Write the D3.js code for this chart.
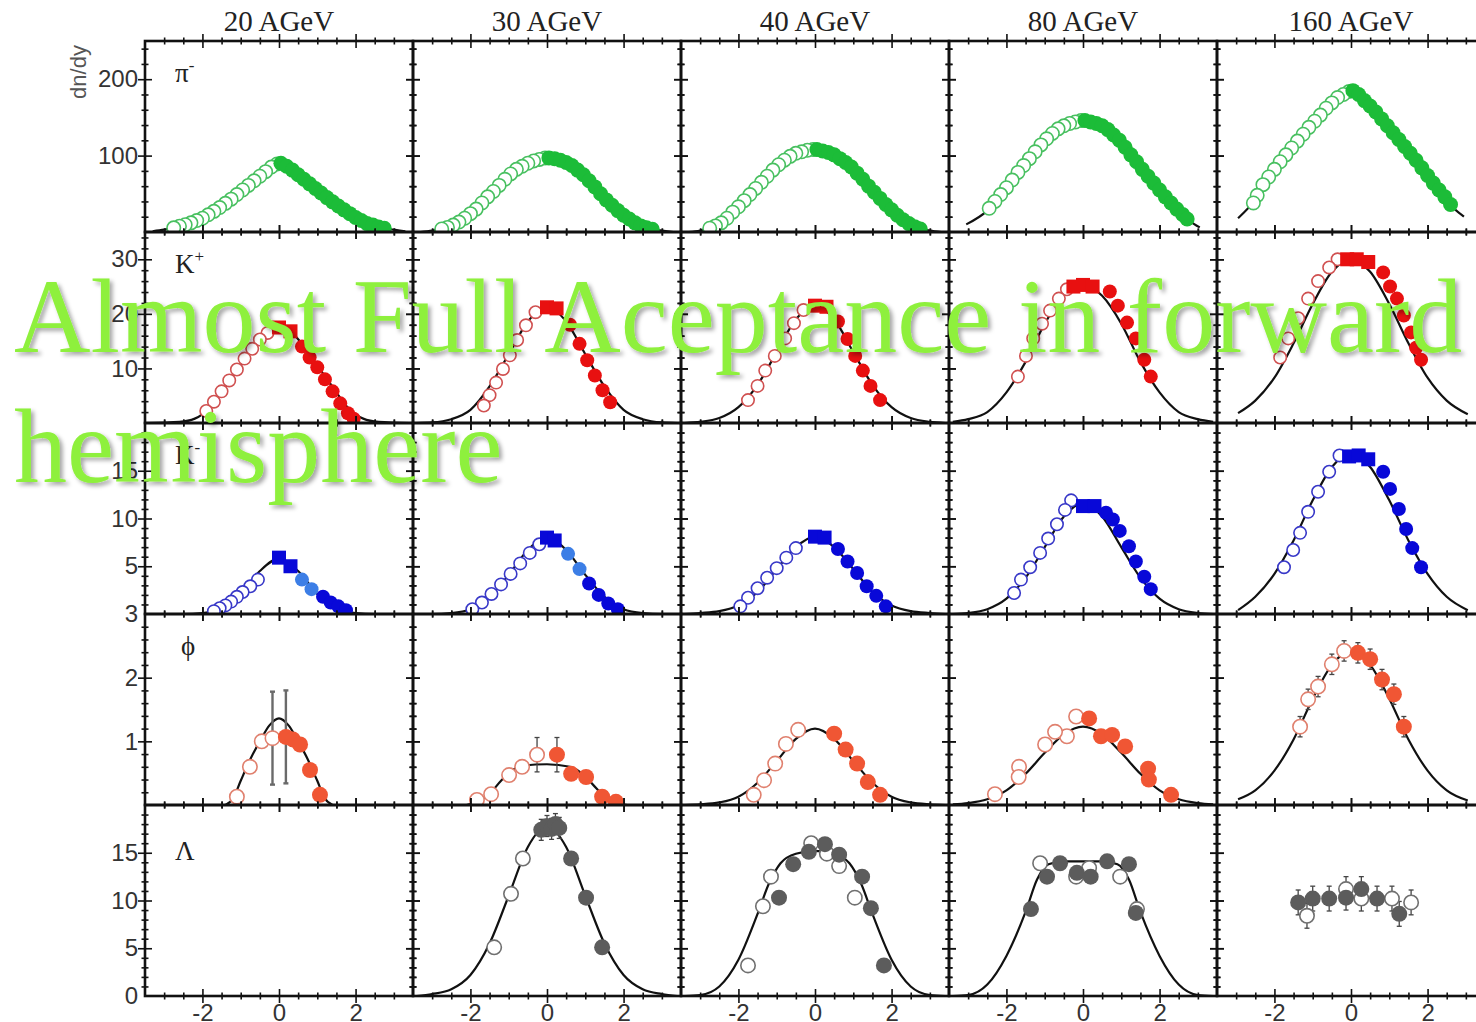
<!DOCTYPE html>
<html>
<head>
<meta charset="utf-8">
<script src="https://cdn.jsdelivr.net/npm/d3@7"></script>
<style>
  body { margin: 0; background: #fff; }
  svg { display: block; }
</style>
</head>
<body>
<svg id="chart" width="1476" height="1022"></svg>
<script>
// ---- beam energies (columns) and particle species (rows) ----
const energies = ["20 AGeV", "30 AGeV", "40 AGeV", "80 AGeV", "160 AGeV"];
const species = [["π", "-"], ["K", "+"], ["K", "-"], ["ϕ", ""], ["Λ", ""]];
const yMaxima = [250, 35, 20, 3, 20];
const yTickLabels = [[100, 200], [10, 20, 30], [5, 10, 15], [1, 2, 3], [0, 5, 10, 15]];
const yMinorSteps = [20, 2, 1, 0.2, 1];
const xTickLabels = [-2, 0, 2];
const yAxisTitle = "dn/dy";
const headline = ["Almost Full Aceptance in forward", "hemisphere"];

// ---- π⁻ rapidity spectra: [y, dn/dy] ----
const piOpen = [
  [[-0.05,89],[-0.2,85],[-0.35,79],[-0.5,73],[-0.65,67],[-0.8,61],[-0.95,55],[-1.1,49],[-1.25,43],[-1.4,37.5],[-1.55,32],[-1.7,27],[-1.85,22.5],[-2.0,18],[-2.15,15],[-2.3,12],[-2.45,9.5],[-2.6,7.5],[-2.75,5.5]],
  [[-0.05,97],[-0.2,95],[-0.35,93],[-0.5,90],[-0.65,86],[-0.8,82],[-0.95,76],[-1.1,69],[-1.25,61],[-1.4,53],[-1.55,46],[-1.7,38],[-1.85,30],[-2.0,24],[-2.15,18],[-2.3,13],[-2.45,9],[-2.6,6],[-2.75,4]],
  [[-0.05,108],[-0.2,107],[-0.35,105],[-0.5,103],[-0.65,99],[-0.8,94],[-0.95,88],[-1.1,81],[-1.25,73],[-1.4,65],[-1.55,57],[-1.7,49],[-1.85,41],[-2.0,33],[-2.15,26],[-2.3,18],[-2.45,12],[-2.6,8],[-2.75,5]],
  [[-0.05,146],[-0.2,144],[-0.35,142],[-0.5,139],[-0.65,135],[-0.8,129],[-0.95,122],[-1.1,114],[-1.25,105],[-1.4,96],[-1.55,87],[-1.7,78],[-1.85,68],[-2.0,58],[-2.15,49],[-2.3,40],[-2.45,31]],
  [[-0.05,184],[-0.2,180],[-0.35,176],[-0.5,169],[-0.65,162],[-0.8,153],[-0.95,145],[-1.1,137],[-1.25,128],[-1.4,119],[-1.55,110],[-1.7,101],[-1.85,92],[-2.0,82],[-2.15,72],[-2.3,62],[-2.45,48],[-2.55,38]]
];
const piFilled = [
  [[0.05,90],[0.2,86],[0.35,81],[0.5,75],[0.65,69],[0.8,63],[0.95,57],[1.1,51],[1.25,45],[1.4,39.5],[1.55,34],[1.7,29],[1.85,24],[2.0,19],[2.15,15],[2.3,11],[2.45,9],[2.6,6.5],[2.75,5]],
  [[0.05,97],[0.2,96],[0.35,94],[0.5,91],[0.65,87],[0.8,81],[0.95,75],[1.1,67],[1.25,59],[1.4,50],[1.55,42],[1.7,35],[1.85,28],[2.0,22],[2.15,17],[2.3,12],[2.45,8],[2.6,5.5],[2.75,3.5]],
  [[0.05,108],[0.2,106],[0.35,104],[0.5,101],[0.65,96],[0.8,91],[0.95,85],[1.1,77],[1.25,69],[1.4,60],[1.55,52],[1.7,44],[1.85,36],[2.0,29],[2.15,22],[2.3,16],[2.45,11],[2.6,7],[2.75,4]],
  [[0.05,146],[0.2,144],[0.35,142],[0.5,139],[0.65,134],[0.8,127],[0.95,120],[1.1,111],[1.25,101],[1.4,92],[1.55,82],[1.7,73],[1.85,64],[2.0,55],[2.15,46],[2.3,38],[2.45,30],[2.6,23],[2.72,17]],
  [[0.05,185],[0.2,180],[0.35,172],[0.5,165],[0.65,157],[0.8,148],[0.95,139],[1.1,130],[1.25,121],[1.4,112],[1.55,103],[1.7,94],[1.85,84],[2.0,74],[2.15,64],[2.3,55],[2.45,46],[2.6,36]]
];
const piCurve = [
  [[-3.3,1],[-3,3],[-2.7,6],[-2.3,12],[-1.9,21],[-1.5,34],[-1,52],[-0.5,72],[0,90],[0.5,75],[1,55],[1.5,36],[1.9,22],[2.3,11],[2.7,5],[3,3],[3.3,1]],
  [[-3.3,0],[-3,2],[-2.7,5],[-2.3,13],[-1.9,28],[-1.5,48],[-1,74],[-0.5,90],[0,97],[0.5,91],[1,72],[1.5,45],[1.9,26],[2.3,12],[2.7,4],[3,2],[3.3,0]],
  [[-3.3,0],[-3,2],[-2.7,6],[-2.3,18],[-1.9,38],[-1.5,60],[-1,86],[-0.5,103],[0,107],[0.5,101],[1,82],[1.5,55],[1.9,34],[2.3,16],[2.7,5],[3,2],[3.3,0]],
  [[-3.05,10],[-2.5,28],[-2,58],[-1.5,90],[-1,119],[-0.5,139],[0,146],[0.5,139],[1,117],[1.5,86],[2,55],[2.5,28],[2.8,14],[3.05,6]],
  [[-2.95,18],[-2.5,42],[-2,82],[-1.5,113],[-1,142],[-0.5,169],[0,186],[0.5,165],[1,136],[1.5,106],[2,74],[2.5,40],[2.95,20]]
];

// ---- K⁺ ----
const kpOpen = [
  [[-0.3,16.5],[-0.5,15.3],[-0.7,13.6],[-0.9,11.8],[-1.1,9.8],[-1.3,7.8],[-1.5,5.8],[-1.7,3.9],[-1.9,2.2]],
  [[-0.3,20.3],[-0.55,17.9],[-0.78,15.2],[-0.97,12.4],[-1.15,9.9],[-1.33,7.4],[-1.5,5.1],[-1.65,3.2]],
  [[-0.3,20.7],[-0.55,18.3],[-0.78,15.5],[-1.05,12.3],[-1.3,9.6],[-1.5,6.8],[-1.75,4.2]],
  [[-0.42,24.5],[-0.63,22.8],[-0.86,20.6],[-1.07,18.2],[-1.3,15.5],[-1.49,12.3],[-1.7,8.5]],
  [[-0.35,30],[-0.57,28.5],[-0.86,26],[-1.12,22.8],[-1.38,19.2],[-1.64,15.5],[-1.85,12]]
];
const kpSquare = [
  [[0,17.5],[0.3,16.8]],
  [[0,21.2],[0.25,21]],
  [[0,21.5],[0.3,21.3]],
  [[-0.25,25],[0,25.3],[0.25,25]],
  [[-0.1,30],[0.15,30],[0.45,29.5]]
];
const kpFilled = [
  [[0.6,14],[0.8,12],[1.0,10.2],[1.2,8],[1.4,5.8],[1.6,3.6],[1.8,1.8],[1.95,0.8]],
  [[0.6,18],[0.85,14.5],[1.05,11.5],[1.25,8.7],[1.45,6],[1.65,3.8]],
  [[0.6,18.6],[0.85,15.4],[1.05,12.3],[1.25,9.6],[1.45,6.8],[1.7,4.2]],
  [[0.7,24.1],[0.91,21.5],[1.15,18.4],[1.38,15.5],[1.6,11.6],[1.77,8.5]],
  [[0.84,27.6],[1.02,25],[1.2,22.8],[1.38,19.7],[1.57,16.6],[1.7,13.8],[1.83,11.6]]
];
const kpCurve = [
  [[-3.4,0],[-2.6,0.2],[-2.2,0.8],[-1.8,2.8],[-1.4,6.6],[-1,10.5],[-0.6,14.5],[-0.3,16.8],[0,17.6],[0.3,16.8],[0.6,14.5],[1,10.5],[1.4,6.6],[1.8,2.8],[2.2,0.8],[2.6,0.2],[3.4,0]],
  [[-3.4,0],[-3,0.1],[-2.5,0.7],[-2,2.4],[-1.5,6.7],[-1,12.6],[-0.5,18.6],[0,21.3],[0.5,18.6],[1,12.6],[1.5,6.7],[2,2.4],[2.5,0.7],[3,0.1],[3.4,0]],
  [[-3.4,0],[-3,0.2],[-2.5,0.9],[-2,2.9],[-1.5,7],[-1,13],[-0.5,19],[0,21.5],[0.5,19],[1,13],[1.5,7],[2,2.9],[2.5,0.9],[3,0.2],[3.4,0]],
  [[-3.4,0.2],[-3,0.7],[-2.5,2],[-2,5.6],[-1.5,11.2],[-1,18.2],[-0.5,23.3],[0,25.3],[0.5,23.3],[1,18.2],[1.5,11.2],[2,5.6],[2.5,2],[3,0.7],[3.4,0.2]],
  [[-2.95,1.8],[-2.5,4.1],[-2,8.3],[-1.5,14.6],[-1,21.8],[-0.5,27.7],[0,30],[0.5,27.7],[1,21.8],[1.5,14.6],[2,8.3],[2.5,4.1],[3.05,1.6]]
];

// ---- K⁻ ----
const kmOpen = [
  [[-0.55,3.6],[-0.75,2.9],[-0.95,2.3],[-1.1,1.8],[-1.25,1.3],[-1.4,0.9],[-1.55,0.6],[-1.7,0.3]],
  [[-0.2,7.3],[-0.45,6.4],[-0.7,5.3],[-0.95,4.2],[-1.2,3.1],[-1.45,2.1],[-1.7,1.2],[-1.95,0.5]],
  [[-0.5,6.9],[-0.75,5.9],[-1.0,4.8],[-1.25,3.8],[-1.5,2.7],[-1.75,1.7],[-1.95,0.8]],
  [[-0.31,11.9],[-0.47,10.9],[-0.68,9.4],[-0.91,7.9],[-1.12,6.4],[-1.38,4.9],[-1.62,3.6],[-1.8,2.2]],
  [[-0.3,16.6],[-0.57,14.9],[-0.86,12.8],[-1.12,10.7],[-1.33,8.5],[-1.51,6.7],[-1.75,4.9]]
];
const kmSquare = [
  [[0,5.9],[0.3,5.0]],
  [[0,8.0],[0.2,7.7]],
  [[0,8.1],[0.25,8.0]],
  [[0,11.3],[0.3,11.3]],
  [[-0.05,16.5],[0.2,16.6],[0.45,16.2]]
];
const kmLight = [
  [[0.6,3.6],[0.85,2.6]],
  [[0.55,6.3],[0.85,4.7]],
  [], [], []
];
const kmFilled = [
  [[1.15,1.8],[1.35,1.2],[1.55,0.8],[1.75,0.4]],
  [[1.1,3.2],[1.35,2.0],[1.6,1.1],[1.85,0.5]],
  [[0.6,6.8],[0.85,5.5],[1.1,4.3],[1.35,2.9],[1.6,1.9],[1.85,0.8]],
  [[0.6,10.6],[0.78,9.9],[0.96,8.7],[1.2,7.1],[1.38,5.5],[1.6,3.9],[1.77,2.6]],
  [[0.84,14.9],[1.02,13.1],[1.25,11],[1.44,8.9],[1.6,6.9],[1.83,4.9]]
];
const kmCurve = [
  [[-3.4,0],[-2.5,0],[-2,0.1],[-1.5,0.6],[-1,2.1],[-0.5,4.5],[0,5.8],[0.5,4.5],[1,2.1],[1.5,0.6],[2,0.1],[2.5,0],[3.4,0]],
  [[-3.4,0],[-3,0],[-2.5,0.1],[-2,0.5],[-1.5,1.8],[-1,4.1],[-0.5,6.7],[0,8],[0.5,6.7],[1,4.1],[1.5,1.8],[2,0.5],[2.5,0.1],[3,0],[3.4,0]],
  [[-3.4,0],[-3,0.1],[-2.5,0.3],[-2,0.9],[-1.5,2.3],[-1,4.7],[-0.5,7],[0,8.1],[0.5,7],[1,4.7],[1.5,2.3],[2,0.9],[2.5,0.3],[3,0.1],[3.4,0]],
  [[-3.4,0],[-3,0.1],[-2.5,0.5],[-2,1.6],[-1.5,3.8],[-1,7],[-0.5,10.2],[0,11.6],[0.5,10.2],[1,7],[1.5,3.8],[2,1.6],[2.5,0.5],[3,0.1],[3.4,0]],
  [[-2.95,0.4],[-2.5,1.8],[-2,4.2],[-1.5,7.7],[-1,11.9],[-0.5,15.4],[0,16.8],[0.5,15.4],[1,11.9],[1.5,7.7],[2,4.2],[2.5,1.8],[3.05,0.4]]
];

// ---- ϕ: [y, dn/dy, error] ----
const phiOpen = [
  [[-1.1,0.13,0.05],[-0.76,0.6,0.08],[-0.45,1.0,0.08],[-0.17,1.05,0.73]],
  [[-0.26,0.79,0.27],[-0.65,0.6,0.05],[-0.99,0.47,0.05],[-1.46,0.17,0.04],[-1.83,0.08,0.03]],
  [[-0.44,1.18,0.06],[-0.76,0.96,0.06],[-1.04,0.65,0.05],[-1.33,0.39,0.05],[-1.6,0.16,0.04]],
  [[-0.18,1.39,0.07],[-0.42,1.08,0.07],[-0.73,1.15,0.07],[-0.99,0.95,0.06],[-1.67,0.6,0.06],[-1.68,0.44,0.05],[-2.3,0.17,0.04]],
  [[-0.18,2.42,0.16],[-0.5,2.21,0.16],[-0.86,1.86,0.16],[-1.12,1.66,0.16],[-1.33,1.23,0.16]]
];
const phiFilled = [
  [[0.18,1.07,0.73],[0.36,1.03,0.1],[0.55,0.95,0.1],[0.81,0.55,0.08],[1.07,0.16,0.05]],
  [[0.26,0.79,0.27],[0.63,0.49,0.05],[1.02,0.44,0.05],[1.44,0.13,0.04],[1.8,0.05,0.03]],
  [[0.5,1.12,0.06],[0.8,0.87,0.06],[1.1,0.65,0.05],[1.38,0.36,0.05],[1.7,0.16,0.04]],
  [[0.16,1.36,0.07],[0.47,1.08,0.07],[0.76,1.1,0.07],[1.1,0.92,0.06],[1.7,0.57,0.06],[1.72,0.4,0.05],[2.3,0.16,0.04]],
  [[0.18,2.39,0.16],[0.5,2.29,0.16],[0.81,1.97,0.16],[1.12,1.74,0.16],[1.38,1.23,0.16]]
];
const phiCurve = [
  [[-1.4,0],[-1.2,0.1],[-1,0.38],[-0.75,0.72],[-0.5,1.0],[-0.25,1.25],[0,1.36],[0.25,1.25],[0.5,1.0],[0.75,0.72],[1,0.38],[1.2,0.1],[1.4,0]],
  [[-2.1,0],[-1.8,0.06],[-1.5,0.18],[-1.2,0.38],[-0.9,0.55],[-0.6,0.62],[0,0.64],[0.6,0.6],[0.9,0.5],[1.2,0.32],[1.5,0.14],[1.8,0.04],[2.1,0]],
  [[-3.4,0],[-3,0.01],[-2.5,0.04],[-2,0.13],[-1.5,0.35],[-1,0.69],[-0.5,1.04],[0,1.2],[0.5,1.04],[1,0.69],[1.5,0.35],[2,0.13],[2.5,0.04],[3,0.01],[3.4,0]],
  [[-3.4,0.01],[-3,0.03],[-2.5,0.09],[-2,0.23],[-1.5,0.49],[-1,0.82],[-0.5,1.11],[0,1.23],[0.5,1.11],[1,0.82],[1.5,0.49],[2,0.23],[2.5,0.09],[3,0.03],[3.4,0.01]],
  [[-2.95,0.09],[-2.5,0.23],[-2,0.54],[-1.5,1.03],[-1,1.67],[-0.5,2.2],[0,2.42],[0.5,2.2],[1,1.67],[1.5,1.03],[2,0.54],[2.5,0.23],[3.05,0.07]]
];

// ---- Λ: [y, dn/dy, error] ----
const lamOpen = [
  [],
  [[-0.63,14.4,0],[-0.94,10.7,0],[-1.38,5.1,0]],
  [[-0.1,16.0,0],[0.31,14.9,0],[0.63,13.6,0],[-1.15,12.5,0],[-1.36,9.4,0],[-1.75,3.2,0],[1.04,10.3,0]],
  [[-1.12,13.9,0],[-0.18,12.5,0],[0.16,13.4,0],[0.97,12.5,0],[1.41,9.1,0]],
  [[-1.15,8.4,1.3],[-0.13,11.2,1.3],[0.27,10.2,1.3],[1.07,10.2,1.3],[1.57,9.8,1.3]]
];
const lamFilled = [
  [],
  [[-0.15,17.4,1.1],[0,17.8,1.1],[0.12,17.5,1.1],[0.22,18.0,1.1],[0.32,17.6,1.1],[0.63,14.4,0],[1.02,10.3,0],[1.44,5.1,0]],
  [[-0.94,10.3,0],[-0.57,13.8,0],[-0.16,15.1,0],[0.26,15.9,0],[0.63,14.8,0],[1.23,12.5,0],[1.46,9.2,0],[1.8,3.2,0]],
  [[-1.36,9.1,0],[-0.94,12.5,0],[-0.6,13.9,0],[-0.16,12.9,0],[0.2,12.5,0],[0.63,14.1,0],[1.2,13.8,0],[1.38,8.7,0]],
  [[-1.38,9.8,1.3],[-1.0,10.2,1.3],[-0.57,10.2,1.3],[-0.13,10.3,1.3],[0.27,11.2,1.3],[0.68,10.2,1.3],[1.26,8.6,1.3]]
];
const lamCurve = [
  [],
  [[-3.4,0],[-3,0.2],[-2.5,0.7],[-2,2.2],[-1.5,5.5],[-1,10.5],[-0.5,15.6],[0,17.8],[0.5,15.6],[1,10.5],[1.5,5.5],[2,2.2],[2.5,0.7],[3,0.2],[3.4,0]],
  [[-3.4,0],[-3,0.1],[-2.5,1.0],[-2,3.8],[-1.5,8.6],[-1.2,11.8],[-0.9,13.9],[-0.5,14.9],[0,15.2],[0.5,14.9],[0.9,13.9],[1.2,11.8],[1.5,8.6],[2,3.8],[2.5,1.0],[3,0.1],[3.4,0]],
  [[-3.4,0],[-3,0.1],[-2.5,1.2],[-2,4.2],[-1.5,8.8],[-1.2,12.2],[-0.9,13.8],[-0.5,14.1],[0,14.1],[0.5,14.1],[0.9,13.8],[1.2,12.2],[1.5,8.8],[2,4.2],[2.5,1.2],[3,0.1],[3.4,0]],
  []
];

// ---- layout ----
const frameLeft = 145, frameTop = 41, panelW = 268, panelH = 191;
const svg = d3.select("#chart");

const defs = svg.append("defs");
defs.append("clipPath").attr("id", "panel-clip")
  .append("rect").attr("x", 0).attr("y", 0).attr("width", panelW).attr("height", panelH);
const shadow = defs.append("filter").attr("id", "text-shadow")
  .attr("x", "-5%").attr("y", "-20%").attr("width", "110%").attr("height", "140%");
shadow.append("feDropShadow").attr("dx", 3).attr("dy", 3).attr("stdDeviation", 2)
  .attr("flood-color", "#000").attr("flood-opacity", 0.35);

const x = d3.scaleLinear().domain([-3.5, 3.5]).range([0, panelW]);

// per-row styling and series
const rows = [
  { series: [
      { kind: "curve", data: piCurve },
      { kind: "open", data: piOpen, stroke: "#48c060", r: 7.5 },
      { kind: "filled", data: piFilled, fill: "#1cbc38", r: 7.5 } ] },
  { series: [
      { kind: "curve", data: kpCurve },
      { kind: "open", data: kpOpen, stroke: "#d05050", r: 7 },
      { kind: "filled", data: kpFilled, fill: "#e81010", r: 7 },
      { kind: "square", data: kpSquare, fill: "#e81010", r: 7 } ] },
  { series: [
      { kind: "curve", data: kmCurve },
      { kind: "open", data: kmOpen, stroke: "#3838c8", r: 7 },
      { kind: "filled", data: kmFilled, fill: "#0808d8", r: 7 },
      { kind: "filled", data: kmLight, fill: "#3c7ee6", r: 7 },
      { kind: "square", data: kmSquare, fill: "#0808d8", r: 7 } ] },
  { series: [
      { kind: "curve", data: phiCurve },
      { kind: "error", data: phiOpen },
      { kind: "error", data: phiFilled },
      { kind: "open", data: phiOpen, stroke: "#e0806e", r: 8 },
      { kind: "filled", data: phiFilled, fill: "#f05634", r: 8 } ] },
  { series: [
      { kind: "curve", data: lamCurve },
      { kind: "error", data: lamOpen },
      { kind: "error", data: lamFilled },
      { kind: "open", data: lamOpen, stroke: "#707070", r: 8 },
      { kind: "filled", data: lamFilled, fill: "#5c5c5c", r: 8 } ] }
];

function crossTicks(g, axisFn, scale, values, len) {
  // ticks that straddle the frame line, drawn as two opposite d3 axes
  [len, -len].forEach(s => {
    const a = g.append("g").call(axisFn(scale).tickValues(values).tickSize(s).tickFormat(""));
    a.select(".domain").remove();
    a.selectAll("line").attr("stroke", "#111").attr("stroke-width", 1.6);
  });
}

rows.forEach((row, r) => {
  const y = d3.scaleLinear().domain([0, yMaxima[r]]).range([panelH, 0]);
  const line = d3.line().x(d => x(d[0])).y(d => y(d[1])).curve(d3.curveMonotoneX);
  const yMinor = d3.range(0, yMaxima[r] + 1e-9, yMinorSteps[r])
    .filter(v => !yTickLabels[r].some(t => Math.abs(t - v) < 1e-6) && v > 1e-6 && v < yMaxima[r] - 1e-6);
  const yMajor = yTickLabels[r].filter(v => v > 1e-6 && v < yMaxima[r] - 1e-6);
  const xMinor = d3.range(-3, 3.01, 0.5).filter(v => !xTickLabels.includes(v));

  energies.forEach((en, c) => {
    const g = svg.append("g")
      .attr("transform", `translate(${frameLeft + c * panelW},${frameTop + r * panelH})`);

    const plot = g.append("g").attr("clip-path", "url(#panel-clip)");
    row.series.forEach(s => {
      const pts = s.data[c];
      if (!pts || !pts.length) return;
      if (s.kind === "curve") {
        plot.append("path").datum(pts).attr("d", line)
          .attr("fill", "none").attr("stroke", "#111").attr("stroke-width", 2.2);
      } else if (s.kind === "error") {
        const big = r === 3 && c === 0;
        const eb = plot.append("g").attr("stroke", big ? "#6a6a6a" : "#444")
          .attr("stroke-width", big ? 2.4 : 1.3);
        pts.filter(d => d[2] > 0).forEach(d => {
          eb.append("line").attr("x1", x(d[0])).attr("x2", x(d[0]))
            .attr("y1", y(d[1] - d[2])).attr("y2", y(d[1] + d[2]));
          [d[1] - d[2], d[1] + d[2]].forEach(v => eb.append("line")
            .attr("x1", x(d[0]) - 2.5).attr("x2", x(d[0]) + 2.5).attr("y1", y(v)).attr("y2", y(v)));
        });
      } else if (s.kind === "open") {
        plot.append("g").selectAll("circle").data(pts).join("circle")
          .attr("cx", d => x(d[0])).attr("cy", d => y(d[1])).attr("r", s.r - 0.8)
          .attr("fill", "#fff").attr("stroke", s.stroke).attr("stroke-width", 1.6);
      } else if (s.kind === "filled") {
        plot.append("g").selectAll("circle").data(pts).join("circle")
          .attr("cx", d => x(d[0])).attr("cy", d => y(d[1])).attr("r", s.r)
          .attr("fill", s.fill);
      } else if (s.kind === "square") {
        plot.append("g").selectAll("rect").data(pts).join("rect")
          .attr("x", d => x(d[0]) - s.r).attr("y", d => y(d[1]) - s.r)
          .attr("width", 2 * s.r).attr("height", 2 * s.r).attr("fill", s.fill);
      }
    });

    // frame ticks on all four sides
    const bottom = g.append("g").attr("transform", `translate(0,${panelH})`);
    crossTicks(bottom, d3.axisBottom, x, xTickLabels, 7);
    crossTicks(bottom, d3.axisBottom, x, xMinor, 3.5);
    crossTicks(g, d3.axisTop, x, xTickLabels, 7);
    crossTicks(g, d3.axisTop, x, xMinor, 3.5);
    crossTicks(g, d3.axisLeft, y, yMajor, 7);
    crossTicks(g, d3.axisLeft, y, yMinor, 3.5);
    const right = g.append("g").attr("transform", `translate(${panelW},0)`);
    crossTicks(right, d3.axisRight, y, yMajor, 7);
    crossTicks(right, d3.axisRight, y, yMinor, 3.5);

    g.append("rect").attr("width", panelW).attr("height", panelH)
      .attr("fill", "none").attr("stroke", "#111").attr("stroke-width", 2.6);

    // y tick labels on the first column
    if (c === 0) {
      const ya = g.append("g").call(d3.axisLeft(y).tickValues(yTickLabels[r])
        .tickFormat(d3.format("d")).tickSize(0).tickPadding(7));
      ya.select(".domain").remove();
      ya.selectAll("text").attr("font-family", "Liberation Sans, Arial, sans-serif")
        .attr("font-size", 24).attr("fill", "#333");
      const lab = g.append("text").attr("x", r === 3 ? 36 : 30).attr("y", r === 4 ? 55 : 41)
        .attr("font-family", "Liberation Serif, Times New Roman, serif")
        .attr("font-size", 27).attr("fill", "#222").text(species[r][0]);
      if (species[r][1]) {
        lab.append("tspan").attr("dy", -11).attr("font-size", 17).text(species[r][1]);
      }
    }
    // x tick labels on the bottom row
    if (r === rows.length - 1) {
      const xa = g.append("g").attr("transform", `translate(0,${panelH})`)
        .call(d3.axisBottom(x).tickValues(xTickLabels).tickSize(0).tickPadding(8)
          .tickFormat(d => d < 0 ? "-" + Math.abs(d) : String(d)));
      xa.select(".domain").remove();
      xa.selectAll("text").attr("font-family", "Liberation Sans, Arial, sans-serif")
        .attr("font-size", 24).attr("fill", "#333");
    }
  });
});

// column headers
svg.append("g").selectAll("text").data(energies).join("text")
  .attr("x", (d, i) => frameLeft + i * panelW + x(0)).attr("y", 31)
  .attr("text-anchor", "middle")
  .attr("font-family", "Liberation Serif, Times New Roman, serif")
  .attr("font-size", 29).attr("fill", "#222").text(d => d);

// y axis title
svg.append("text").attr("transform", "translate(86,72) rotate(-90)")
  .attr("text-anchor", "middle")
  .attr("font-family", "Liberation Sans, Arial, sans-serif")
  .attr("font-size", 22).attr("fill", "#555").text(yAxisTitle);

// headline across the plots
svg.append("g").attr("filter", "url(#text-shadow)")
  .selectAll("text").data(headline).join("text")
  .attr("x", 14).attr("y", (d, i) => 352 + i * 130)
  .attr("font-family", "Liberation Serif, Times New Roman, serif")
  .attr("font-size", 106).attr("fill", "#8ef03c").text(d => d);
</script>
</body>
</html>
